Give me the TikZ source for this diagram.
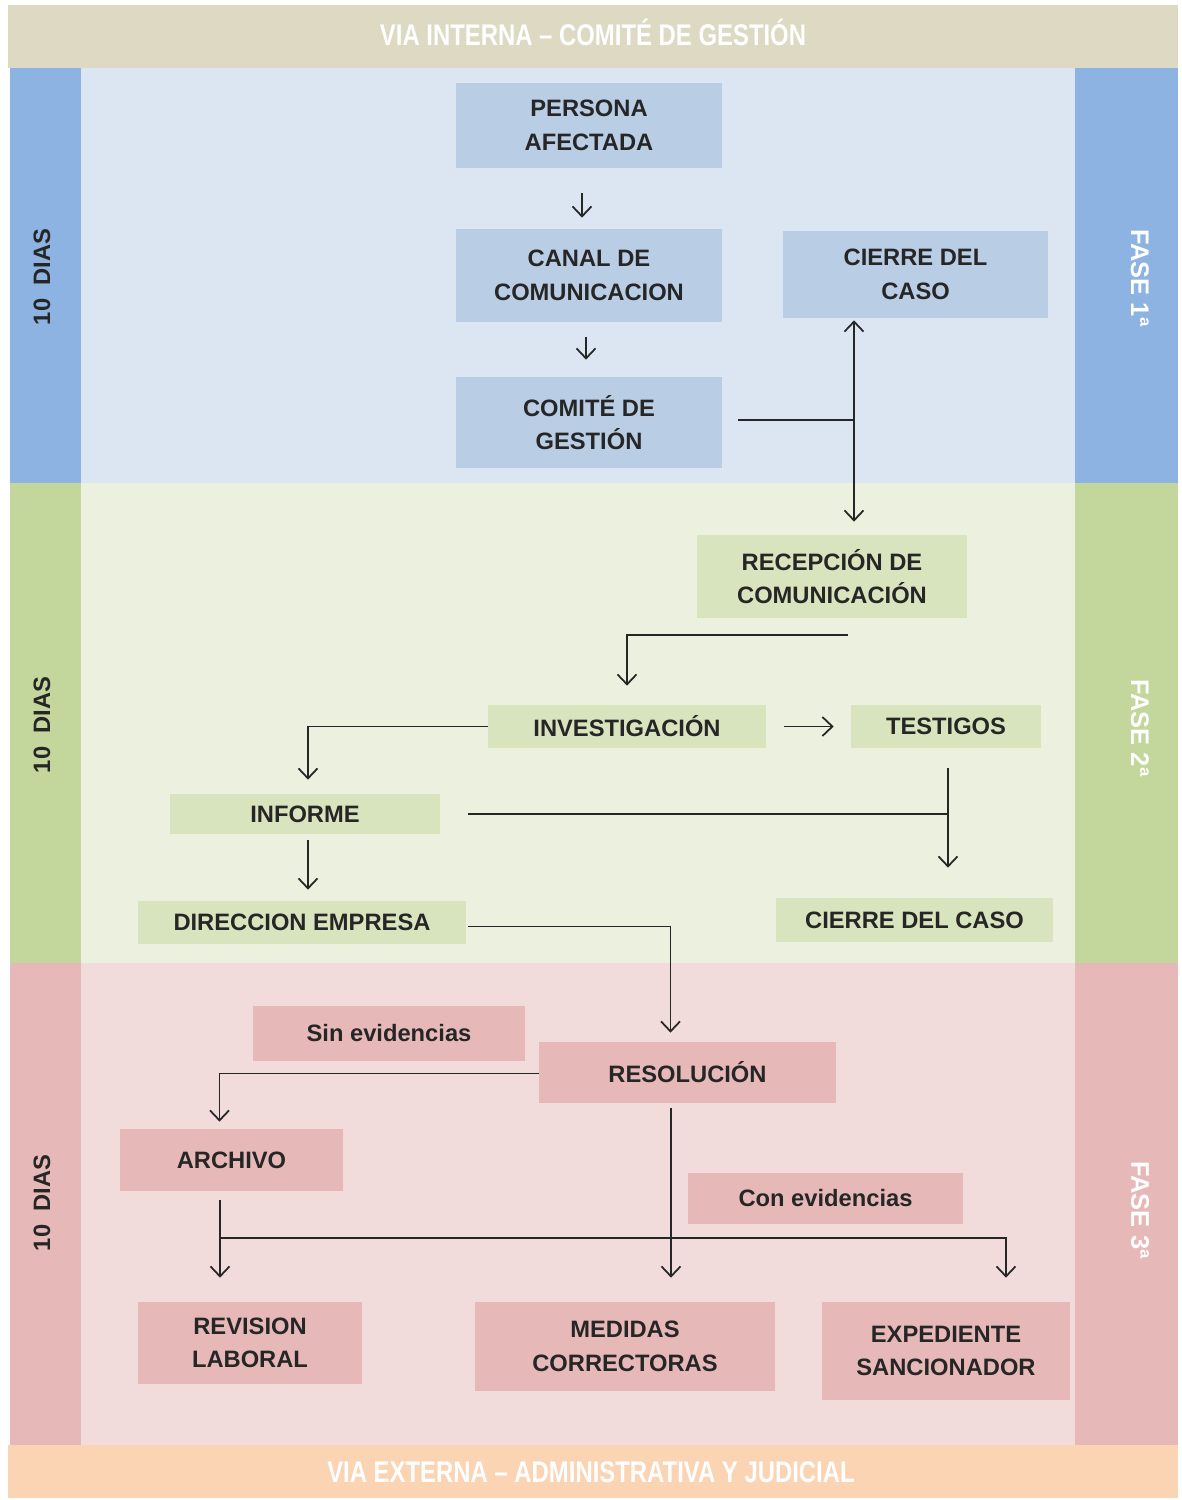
\documentclass[tikz,border=0pt]{standalone}
\usepackage{fontspec}
\setmainfont{Liberation Sans}
\newfontfamily\angosta[FakeStretch=0.8]{Liberation Sans}
\usetikzlibrary{arrows.meta, positioning, calc}

\definecolor{beige}{HTML}{DDD9C3}
\definecolor{melocoton}{HTML}{FBD4B4}
\definecolor{azulbarra}{HTML}{8DB3E2}
\definecolor{azulfondo}{HTML}{DCE6F2}
\definecolor{azulcaja}{HTML}{B9CDE5}
\definecolor{verdebarra}{HTML}{C3D69B}
\definecolor{verdefondo}{HTML}{EBF1DE}
\definecolor{verdecaja}{HTML}{D7E4BD}
\definecolor{rosabarra}{HTML}{E6B9B8}
\definecolor{rosafondo}{HTML}{F2DCDB}
\definecolor{rosacaja}{HTML}{E6B9B8}
\definecolor{tinta}{HTML}{262626}

\begin{document}
\begin{tikzpicture}[x=0.02cm,y=-0.02cm,
  caja/.style={rectangle, inner sep=0pt, align=center, text=tinta,
    font=\fontsize{13.5}{19}\selectfont\bfseries},
  cajaA/.style={caja, fill=azulcaja},
  cajaV/.style={caja, fill=verdecaja},
  cajaR/.style={caja, fill=rosacaja},
  dias/.style={rotate=90, text=tinta, font=\fontsize{13.5}{16}\selectfont\bfseries},
  fase/.style={rotate=-90, text=white, font=\fontsize{14.5}{16}\selectfont\bfseries},
  via/.style={text=white, font=\angosta\fontsize{17}{20}\selectfont\bfseries},
  linea/.style={draw=tinta, line width=1pt},
  flecha/.style={linea, -{Straight Barb[length=2mm,width=3.8mm]}}]
\useasboundingbox (0,0) rectangle (1182,1500);
\fill[white] (0,0) rectangle (1182,1500);

% bandas
\fill[beige] (8,5) rectangle (1178,68);
\fill[melocoton] (8,1445) rectangle (1178,1498);
\fill[azulbarra] (10,68) rectangle (81,483);
\fill[azulfondo] (81,68) rectangle (1075,483);
\fill[azulbarra] (1075,68) rectangle (1178,483);
\fill[verdebarra] (10,483) rectangle (81,963);
\fill[verdefondo] (81,483) rectangle (1075,963);
\fill[verdebarra] (1075,483) rectangle (1178,963);
\fill[rosabarra] (10,963) rectangle (81,1445);
\fill[rosafondo] (81,963) rectangle (1075,1445);
\fill[rosabarra] (1075,963) rectangle (1178,1445);

\node[via] (interna) at (593,32) {VIA INTERNA – COMITÉ DE GESTIÓN};
\node[via] (externa) at (591,1472) {VIA EXTERNA – ADMINISTRATIVA Y JUDICIAL};

\node[dias] (dias1) at (42,277) {10\ \ DIAS};
\node[dias] (dias2) at (42,725) {10\ \ DIAS};
\node[dias] (dias3) at (42,1203) {10\ \ DIAS};
\node[fase] (fase1) at (1140,278) {FASE 1ª};
\node[fase] (fase2) at (1140,728) {FASE 2ª};
\node[fase] (fase3) at (1140,1210) {FASE 3ª};

% fase 1
\node[cajaA, minimum width=5.32cm, minimum height=1.70cm] (persona) at (589,125.5) {PERSONA\\AFECTADA};
\node[cajaA, minimum width=5.32cm, minimum height=1.86cm] (canal) at (589,275.5) {CANAL DE\\COMUNICACION};
\node[cajaA, minimum width=5.32cm, minimum height=1.82cm] (comite) at (589,422.5) {COMITÉ DE\\GESTIÓN};
\node[cajaA, minimum width=5.30cm, minimum height=1.74cm] (cierre1) at (915.5,274.5) {CIERRE DEL\\CASO};

% fase 2
\node[cajaV, minimum width=5.40cm, minimum height=1.66cm] (recepcion) at (832,576.5) {RECEPCIÓN DE\\COMUNICACIÓN};
\node[cajaV, minimum width=5.56cm, minimum height=0.86cm] (investigacion) at (627,726.5) {INVESTIGACIÓN};
\node[cajaV, minimum width=3.80cm, minimum height=0.86cm] (testigos) at (946,726.5) {TESTIGOS};
\node[cajaV, minimum width=5.40cm, minimum height=0.80cm] (informe) at (305,814) {INFORME};
\node[cajaV, minimum width=6.56cm, minimum height=0.86cm] (direccion) at (302,922.5) {DIRECCION EMPRESA};
\node[cajaV, minimum width=5.54cm, minimum height=0.88cm] (cierre2) at (914.5,920) {CIERRE DEL CASO};

% fase 3
\node[cajaR, minimum width=5.44cm, minimum height=1.10cm] (sinevid) at (389,1033.5) {Sin evidencias};
\node[cajaR, minimum width=5.94cm, minimum height=1.22cm] (resolucion) at (687.5,1072.5) {RESOLUCIÓN};
\node[cajaR, minimum width=4.46cm, minimum height=1.24cm] (archivo) at (231.5,1160) {ARCHIVO};
\node[cajaR, minimum width=5.50cm, minimum height=1.02cm] (conevid) at (825.5,1198.5) {Con evidencias};
\node[cajaR, minimum width=4.48cm, minimum height=1.64cm] (revision) at (250,1343) {REVISION\\LABORAL};
\node[cajaR, minimum width=6.00cm, minimum height=1.78cm] (medidas) at (625,1346.5) {MEDIDAS\\CORRECTORAS};
\node[cajaR, minimum width=4.96cm, minimum height=1.96cm] (expediente) at (946,1351) {EXPEDIENTE\\SANCIONADOR};

\coordinate (nudo1) at (854,420);
\coordinate (nudo2) at (948,813);
\coordinate (nudo3) at (220,1238);

% conectores
\draw[flecha, shorten <=0.5cm, shorten >=0.22cm] ([xshift=-0.14cm]persona.south) -- ([xshift=-0.14cm]persona.south |- canal.north);
\draw[flecha, shorten <=0.3cm, shorten >=0.34cm] ([xshift=-0.06cm]canal.south) -- ([xshift=-0.06cm]canal.south |- comite.north);
\draw[linea, shorten <=0.32cm] (comite.east |- nudo1) -- (nudo1);
\draw[flecha, shorten >=0.04cm] (nudo1) -- (nudo1 |- cierre1.south);
\draw[flecha, shorten >=0.26cm] (nudo1) -- (nudo1 |- recepcion.north);
\draw[flecha, shorten >=0.38cm] ([xshift=0.32cm,yshift=-0.34cm]recepcion.south) -| (investigacion.north);
\draw[flecha, shorten >=0.28cm] (investigacion.west) -| ([xshift=0.06cm]informe.north);
\draw[flecha, shorten <=0.36cm, shorten >=0.34cm] (investigacion.east) -- (testigos.west);
\draw[flecha, shorten <=0.12cm, shorten >=0.22cm] ([xshift=0.06cm]informe.south) -- ([xshift=0.06cm]informe.south |- direccion.north);
\draw[linea, shorten <=0.56cm] (informe.east) -- (informe.east -| nudo2);
\draw[flecha, shorten <=0.4cm, shorten >=0.6cm] (nudo2 |- testigos.south) -- (nudo2 |- cierre2.north);
\draw[flecha, shorten >=0.18cm] ([xshift=0.04cm,yshift=-0.08cm]direccion.east) -| ([xshift=-0.34cm]resolucion.north);
\draw[flecha, shorten >=0.14cm] ([yshift=-0.02cm]resolucion.west) -| ([xshift=-0.24cm]archivo.north);
\draw[flecha, shorten <=0.1cm, shorten >=0.48cm] ([xshift=-0.33cm]resolucion.south) -- ([xshift=-0.33cm]resolucion.south |- medidas.north);
\draw[flecha, shorten <=0.18cm, shorten >=0.48cm] (nudo3 |- archivo.south) -- (nudo3 |- revision.north);
\draw[flecha, shorten >=0.48cm] (nudo3) -| ([xshift=1.2cm]expediente.north);
\end{tikzpicture}
\end{document}
